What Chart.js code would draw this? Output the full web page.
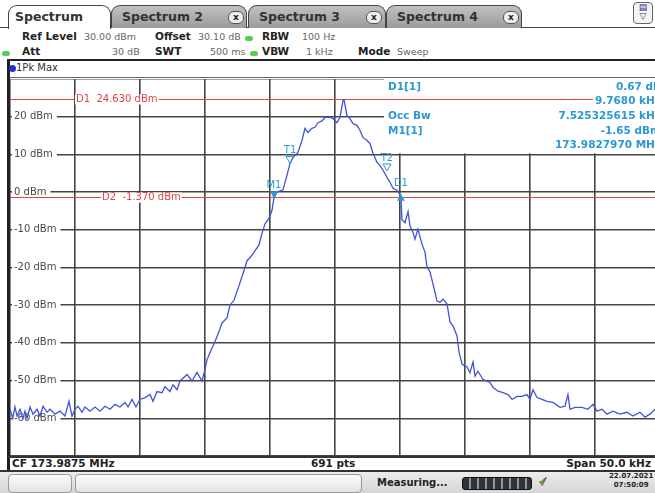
<!DOCTYPE html>
<html>
<head>
<meta charset="utf-8">
<script src="https://cdn.jsdelivr.net/npm/chart.js@4.4.1/dist/chart.umd.min.js"></script>
<style>
html, body { margin: 0; padding: 0; width: 655px; height: 493px; overflow: hidden; background: #fff; font-family: "DejaVu Sans", sans-serif; }
.abs { position: absolute; white-space: nowrap; }
.tab { position: absolute; top: 5px; height: 23px; border: 1px solid #444; border-bottom: none; border-radius: 9px 9px 0 0;
       background: linear-gradient(#c0c0c0, #9c9c9c); font-weight: bold; font-size: 12.5px; color: #333; line-height: 22px; box-sizing: border-box; }
.tab.active { background: #fff; z-index: 2; height: 24px; }
.tab span { position: absolute; left: 6px; }
.close { position: absolute; top: 5px; width: 14px; height: 11px; border: 1px solid #555; border-radius: 6px; background: #eee;
         font-size: 9px; line-height: 10px; text-align: center; color: #222; }
.lbl { font-size: 10.5px; font-weight: bold; color: #222; }
.val { font-size: 9.5px; color: #666; }
.dot { position: absolute; width: 8px; height: 5px; border-radius: 3px; background: #5c5; }
.foot { font-size: 10.5px; font-weight: bold; color: #222; }
.box { position: absolute; top: 474px; height: 17px; border: 1px solid #999; border-radius: 4px; background: linear-gradient(#fcfcfc, #e2e2e2); }
#wrap { position: absolute; left: 10px; top: 79px; width: 650px; height: 377px; }
</style>
</head>
<body>
<!-- tab strip -->
<div class="abs" style="left:0;top:27px;width:655px;height:1px;background:#444"></div>
<div class="tab active" style="left:8px;width:103px"><span>Spectrum</span></div>
<div class="tab" style="left:111px;width:136px"><span style="left:10px">Spectrum 2</span><div class="close" style="left:116px">x</div></div>
<div class="tab" style="left:248px;width:138px"><span style="left:10px">Spectrum 3</span><div class="close" style="left:117px">x</div></div>
<div class="tab" style="left:386px;width:136px"><span style="left:10px">Spectrum 4</span><div class="close" style="left:116px">x</div></div>
<div class="abs" style="left:633px;top:2px;width:18px;height:20px;border:1px solid #666;border-radius:4px;background:#f4f4f4;font-size:9px;text-align:center;line-height:9px;color:#337">&#9636;<br>&#9661;</div>

<!-- setting lines -->
<div class="abs lbl" style="left:22px;top:30px">Ref Level</div>
<div class="abs val" style="left:84px;top:31px">30.00 dBm</div>
<div class="abs lbl" style="left:155px;top:30px">Offset</div>
<div class="abs val" style="left:198px;top:31px">30.10 dB</div>
<div class="dot" style="left:245px;top:36px"></div>
<div class="abs lbl" style="left:262px;top:30px">RBW</div>
<div class="abs val" style="left:302px;top:31px">100 Hz</div>
<div class="dot" style="left:2px;top:51px"></div>
<div class="abs lbl" style="left:22px;top:45px">Att</div>
<div class="abs val" style="left:112px;top:46px">30 dB</div>
<div class="abs lbl" style="left:155px;top:45px">SWT</div>
<div class="abs val" style="left:210px;top:46px">500 ms</div>
<div class="dot" style="left:250px;top:51px"></div>
<div class="abs lbl" style="left:262px;top:45px">VBW</div>
<div class="abs val" style="left:306px;top:46px">1 kHz</div>
<div class="abs lbl" style="left:358px;top:45px">Mode</div>
<div class="abs val" style="left:397px;top:46px">Sweep</div>

<!-- trace label row -->
<div class="abs" style="left:7px;top:59px;width:660px;height:2px;background:#222"></div>
<div class="abs" style="left:8px;top:77px;width:660px;height:1px;background:#666"></div>
<div class="abs" style="left:7px;top:59px;width:3px;height:412px;background:#222"></div>
<div class="abs" style="left:9px;top:65px;width:7px;height:7px;border-radius:4px;background:#2233cc"></div>
<div class="abs" style="left:16px;top:62px;font-size:10px;color:#333">1Pk Max</div>

<div id="wrap"><canvas id="spec" width="650" height="377"></canvas></div>

<!-- footer -->
<div class="abs" style="left:8px;top:456px;width:660px;height:2px;background:#333"></div>
<div class="abs foot" style="left:12px;top:457px">CF 173.9875 MHz</div>
<div class="abs foot" style="left:311px;top:457px">691 pts</div>
<div class="abs foot" style="right:4px;top:457px">Span 50.0 kHz</div>
<div class="abs" style="left:0;top:470px;width:655px;height:23px;background:linear-gradient(#ececec,#d6d6d6);border-top:2px solid #333;box-sizing:border-box"></div>
<div class="box" style="left:8px;width:62px"></div>
<div class="box" style="left:75px;width:285px"></div>
<div class="abs" style="left:377px;top:477px;font-size:10px;font-weight:bold;color:#222">Measuring...</div>
<div class="abs" style="left:462px;top:477px;width:68px;height:11px;border-radius:3px;background:repeating-linear-gradient(90deg,#333 0 6px,#8898a8 6px 8px);border:1px solid #111"></div>
<div class="abs" style="left:538px;top:475px;font-size:11px;font-weight:bold;color:#3a3;font-style:italic">&#x2714;<span style="color:#b33;margin-left:-5px">/</span></div>
<div class="abs" style="left:609px;top:472px;font-size:7px;line-height:9px;color:#222;text-align:center;font-weight:bold">22.07.2021<br>07:50:09</div>

<script>
// trace: offset from centre frequency (kHz) and level (dBm)
const freqOffsetKHz = [
  -25.0, -24.79, -24.62, -24.46, -24.23, -24.0, -23.85, -23.69, -23.46, -23.23, -22.92, -22.69, -22.46, -22.15, -21.92, -21.54, -21.15, -20.77, -20.46, -20.23,
  -20.0, -19.77, -19.46, -19.23, -18.85, -18.46, -18.08, -17.69, -17.31, -16.92, -16.54, -16.15, -15.92, -15.62, -15.31, -15.0, -14.62, -14.23, -14.0, -13.69,
  -13.31, -13.08, -12.69, -12.46, -12.15, -11.92, -11.38, -11.0, -10.62, -10.23,
  -10.0, -9.85, -9.62, -9.23, -8.92, -8.69, -8.31, -8.08, -7.77, -7.38, -7.0, -6.77, -6.54, -6.23, -5.85, -5.62, -5.38, -5.08, -4.85, -4.70,
  -4.46, -4.0, -3.69, -3.46, -3.23, -2.85, -2.54, -2.31, -2.08, -1.77, -1.54, -1.31, -1.0, -0.77, -0.38, -0.15, 0.15, 0.38, 0.62, 0.69,
  0.92, 1.15, 1.38, 1.69, 1.92, 2.15, 2.46, 2.69, 2.92, 3.23, 3.46, 3.69, 4.0, 4.23, 4.46, 4.77, 5.07, 5.15, 5.38, 5.62,
  5.77, 6.0, 6.15, 6.38, 6.69, 6.92, 7.08, 7.31, 7.54, 7.85, 8.08, 8.31, 8.62, 8.85, 9.08, 9.38, 9.54, 9.77, 10.0, 10.15,
  10.38, 10.62, 10.77, 11.0, 11.38, 11.92, 12.15, 12.54, 12.92, 13.31, 13.62, 14.0, 14.38, 14.77, 15.0, 15.23, 15.54, 15.92, 16.31, 16.77,
  17.31, 17.69, 17.92, 18.08, 18.46, 19.0, 19.46, 19.85, 20.15, 20.54, 20.92, 21.38, 21.92, 22.46, 22.92, 23.46, 23.85, 24.23, 24.62, 25.0
];
const levelDBm = [
  -57.6, -60, -57, -59.4, -57.6, -60, -58.1, -60, -57, -58.9, -57.6, -59.4, -56.8, -58.4, -57.6, -58.9, -58.1, -59.4, -55.5, -59.4,
  -57.6, -56.8, -58.4, -57, -58.1, -57, -58.1, -56.8, -57.6, -56.3, -57, -55.8, -57, -55, -57, -55, -54.5, -53.7, -55.5, -52.9,
  -53.2, -51.6, -52.9, -51.1, -52.4, -50.1, -48.4, -50.1, -47.8, -50.1,
  -47, -44.5, -42.6, -39.6, -37, -34.7, -33.4, -30, -28.7, -24.8, -20.8, -18.2, -17.4, -16, -14, -11, -8.4, -7, -4.9, -1.65,
  0, 0.6, 4.5, 7.6, 9.2, 10.5, 13.7, 16.9, 15.8, 16.9, 17.2, 18.4, 18.9, 19.8, 19.8, 19.5, 18.4, 19.8, 24.3, 24.6,
  20.3, 19.5, 18.2, 17.7, 16.4, 14.5, 13.7, 12.9, 10.3, 7.9, 7.1, 5.8, 3.9, 2.6, 1, 0.5, -1.0, -7.3, -8.1, -5.2,
  -9, -10.7, -12.5, -9.8, -13.8, -15.9, -19.9, -21.2, -24.4, -28.9, -29.2, -28.4, -29.7, -34.5, -35.5, -38.1, -42.4, -45.6, -46.1, -46.3,
  -47.9, -45.1, -48.8, -47.5, -49.7, -50.5, -51.8, -52.8, -53.2, -53.7, -55, -54.2, -54.2, -53.7, -55, -52.4, -54.5, -55, -55.5, -55.8,
  -57.1, -56.8, -53.7, -57.6, -57.1, -57.1, -57.6, -56.3, -58.1, -57.6, -58.9, -58.1, -58.9, -58.4, -59.4, -58.4, -59.7, -58.9, -57.6, -59
];

// y labels shown inside the grid
const levelTicks = [20, 10, 0, -10, -20, -30, -40, -50, -60];

// display lines
const lineLevels = [24.63, -1.37];
const lineLabels = ['D1  24.630 dBm', 'D2  -1.370 dBm'];
const lineLabelKHz = [-20.0, -18.0];

// markers
const markerNames = ['M1', 'T1', 'T2', 'D1'];
const markerKHz = [-4.70, -3.46, 4.0, 5.07];
const markerDBm = [-1.65, 7.6, 5.6, -0.98];

// marker table
const tableLeft = ['D1[1]', '', 'Occ Bw', 'M1[1]', ''];
const tableRight = ['0.67 dB', '9.7680 kHz', '7.525325615 kHz', '-1.65 dBm', '173.9827970 MHz'];

const RED = '#e0463f';
const CYAN = '#2b98d4';

const overlay = {
    id: 'overlay',
    beforeDatasetsDraw(chart) {
        const ctx = chart.ctx;
        const x = chart.scales.x, y = chart.scales.y;
        ctx.save();
        // white panel under marker table
        ctx.fillStyle = '#fff';
        ctx.fillRect(374, 0, 300, y.getPixelForValue(10) - 1);

        // level labels
        ctx.font = '10px "DejaVu Sans"';
        ctx.textBaseline = 'middle';
        levelTicks.forEach(v => {
            const py = y.getPixelForValue(v);
            const t = v + ' dBm';
            const w = ctx.measureText(t).width;
            ctx.fillStyle = '#fff';
            ctx.fillRect(2, py - 5, w + 6, 10);
            ctx.fillStyle = '#4a4a4a';
            ctx.fillText(t, 4, py);
        });

        // display lines
        lineLevels.forEach((v, i) => {
            const py = Math.round(y.getPixelForValue(v)) + 0.5;
            ctx.strokeStyle = RED;
            ctx.lineWidth = 1.2;
            ctx.beginPath();
            ctx.moveTo(0, py);
            ctx.lineTo(chart.width, py);
            ctx.stroke();
            const lx = x.getPixelForValue(lineLabelKHz[i]);
            const w = ctx.measureText(lineLabels[i]).width;
            ctx.fillStyle = '#fff';
            ctx.fillRect(lx, py - 5, w + 2, 10);
            ctx.fillStyle = RED;
            ctx.fillText(lineLabels[i], lx + 1, py);
        });
        ctx.restore();
    },
    afterDatasetsDraw(chart) {
        const ctx = chart.ctx;
        const x = chart.scales.x, y = chart.scales.y;
        ctx.save();
        ctx.font = '10px "DejaVu Sans"';
        ctx.textBaseline = 'middle';
        ctx.textAlign = 'center';
        markerNames.forEach((name, i) => {
            const px = x.getPixelForValue(markerKHz[i]);
            const py = y.getPixelForValue(markerDBm[i]);
            ctx.fillStyle = CYAN;
            ctx.strokeStyle = CYAN;
            ctx.lineWidth = 1;
            ctx.beginPath();
            if (name === 'D1') {
                ctx.moveTo(px, py - 2);
                ctx.lineTo(px - 4, py + 5);
                ctx.lineTo(px + 4, py + 5);
                ctx.closePath();
                ctx.fill();
                ctx.fillText(name, px, py - 12);
            } else {
                ctx.moveTo(px, py);
                ctx.lineTo(px - 4, py - 7);
                ctx.lineTo(px + 4, py - 7);
                ctx.closePath();
                if (name === 'M1') ctx.fill(); else ctx.stroke();
                ctx.fillText(name, px, py - 13);
            }
        });

        // marker table
        ctx.font = 'bold 10.5px "DejaVu Sans"';
        ctx.textAlign = 'left';
        tableLeft.forEach((t, i) => {
            if (!t) return;
            const py = 8 + i * 14.6;
            const w = ctx.measureText(t).width;
            ctx.fillStyle = '#fff';
            ctx.fillRect(376, py - 6, w + 4, 12);
            ctx.fillStyle = CYAN;
            ctx.fillText(t, 378, py);
        });
        ctx.textAlign = 'right';
        tableRight.forEach((t, i) => {
            const py = 8 + i * 14.6;
            const w = ctx.measureText(t).width;
            ctx.fillStyle = '#fff';
            ctx.fillRect(651 - w - 2, py - 6, w + 4, 12);
            ctx.fillStyle = CYAN;
            ctx.fillText(t, 651, py);
        });
        ctx.restore();
    }
};

new Chart(document.getElementById('spec').getContext('2d'), {
    type: 'line',
    data: {
        datasets: [{
            label: '1Pk Max',
            data: freqOffsetKHz.map((f, i) => ({ x: f, y: levelDBm[i] })),
            borderColor: '#4153dc',
            borderWidth: 1.3,
            pointRadius: 0,
            tension: 0,
            fill: false
        }]
    },
    options: {
        responsive: false,
        animation: false,
        layout: { padding: 0 },
        plugins: { legend: { display: false }, tooltip: { enabled: false } },
        scales: {
            x: {
                type: 'linear', min: -25, max: 25,
                ticks: { display: false, stepSize: 5 },
                grid: { color: '#444', lineWidth: 1.6, drawTicks: false },
                border: { display: false }
            },
            y: {
                min: -70, max: 30,
                ticks: { display: false, stepSize: 10 },
                grid: { color: '#444', lineWidth: 1.6, drawTicks: false },
                border: { display: false }
            }
        }
    },
    plugins: [overlay]
});
</script>
</body>
</html>
